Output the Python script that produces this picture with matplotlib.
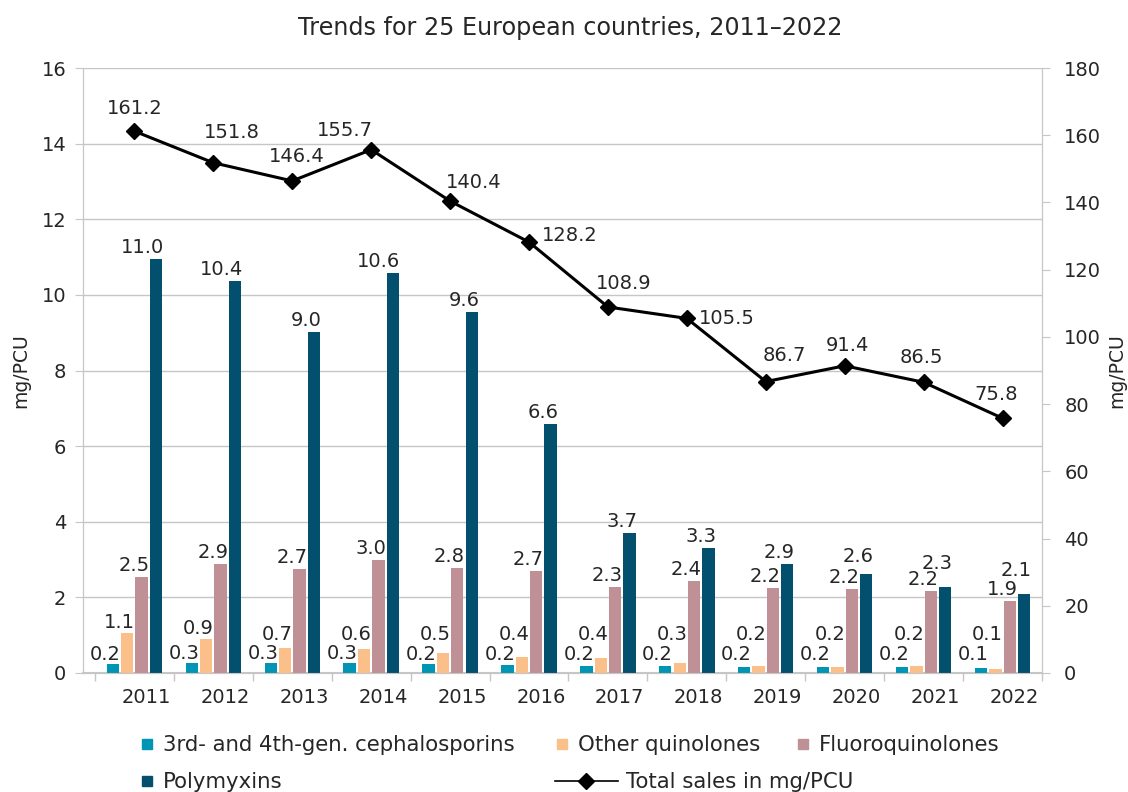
import numpy as np
import matplotlib
matplotlib.use('Agg')
import matplotlib.pyplot as plt
from matplotlib.lines import Line2D

years = ['2011', '2012', '2013', '2014', '2015', '2016',
         '2017', '2018', '2019', '2020', '2021', '2022']
cephalosporins = [0.24, 0.27, 0.27, 0.27, 0.23, 0.21, 0.19, 0.19, 0.17, 0.16, 0.16, 0.13]
other_quinolones = [1.07, 0.90, 0.67, 0.64, 0.52, 0.42, 0.40, 0.27, 0.19, 0.16, 0.18, 0.11]
fluoroquinolones = [2.54, 2.88, 2.74, 2.99, 2.78, 2.70, 2.27, 2.43, 2.24, 2.22, 2.17, 1.90]
polymyxins = [10.96, 10.36, 9.02, 10.58, 9.56, 6.58, 3.70, 3.31, 2.88, 2.63, 2.28, 2.10]
total_sales = [161.2, 151.8, 146.4, 155.7, 140.4, 128.2, 108.9, 105.5, 86.7, 91.4, 86.5, 75.8]

series_names = ['3rd- and 4th-gen. cephalosporins', 'Other quinolones',
                'Fluoroquinolones', 'Polymyxins']
colors = ['#0094B5', '#FBBF89', '#BF9096', '#034F6E']
grid_col = '#C6C6C6'
txt_col = '#262626'

# offsets (pixels) of the total-sales labels from their markers
line_lbl_off = [(0, 23), (18, 30), (4, 24), (-26, 19), (24, 19), (41, 7),
                (16, 23), (40, 0), (19, 26), (3, 20), (-2, 25), (-6, 24)]

plt.rcParams['font.family'] = 'DejaVu Sans'
my_dpi = 100
fig = plt.figure(figsize=(1128/my_dpi, 792/my_dpi), dpi=my_dpi)
ax = fig.add_axes([83/1128, 1-673/792, (1042-83)/1128, (673-68)/792])
ax2 = ax.twinx()

ax.set_xlim(-0.5 - 12/79, 11.5)
ax.set_ylim(0, 16)
ax2.set_ylim(0, 180)
px_per_unit = ax.bbox.height / 16.0

x = np.arange(len(years))
pitch = 0.182
width = 0.156
data = [cephalosporins, other_quinolones, fluoroquinolones, polymyxins]
for k, vals in enumerate(data):
    pos = x + (k - 1.5) * pitch
    ax.bar(pos, vals, width=width, color=colors[k], zorder=3)
    for i, v in enumerate(vals):
        top = v * px_per_unit
        if k == 0:
            off = max(top + 4, 13)          # small labels sit on a common row
        elif k == 1:
            off = max(top + 5, 33)          # stacked above the cyan ones
        elif k == 3 and years[i] == '2020':
            off = top + 12
        elif k == 3 and years[i] in ('2021', '2022'):
            off = top + 18
        else:
            off = top + 6
        ax.annotate(f'{v:.1f}', xy=(pos[i] + width/2 + 0.02, 0), xytext=(0, off),
                    textcoords='offset pixels', ha='right', va='baseline',
                    fontsize=14, color=txt_col, zorder=5)

ax2.plot(x, total_sales, color='black', linewidth=2.2, marker='D',
         markersize=8.5, zorder=4)
for i, v in enumerate(total_sales):
    ax2.annotate(f'{v:.1f}', xy=(x[i], v), xytext=line_lbl_off[i],
                 textcoords='offset pixels', ha='center', va='center',
                 fontsize=14, color=txt_col)

ax.set_yticks(np.arange(0, 17, 2))
ax2.set_yticks(np.arange(0, 181, 20))

ax.set_xticks(x + 0.15)
ax.set_xticklabels(years)
ax.set_xticks(np.arange(-0.5, 12, 1), minor=True)
ax.tick_params(axis='x', which='major', length=0, pad=11, labelsize=14, labelcolor=txt_col)
ax.tick_params(axis='x', which='minor', length=6, color=grid_col, width=1)
ax.tick_params(axis='y', length=6, color=grid_col, labelsize=14, labelcolor=txt_col, pad=6)
ax2.tick_params(axis='y', length=6, color=grid_col, labelsize=14, labelcolor=txt_col, pad=10)

ax.yaxis.grid(True, color=grid_col, linewidth=1, zorder=0)
ax.set_axisbelow(True)
for a in (ax, ax2):
    a.spines['top'].set_visible(False)
    for s in ('left', 'right', 'bottom'):
        a.spines[s].set_color(grid_col)
ax.spines['bottom'].set_linewidth(1.5)

ax.set_ylabel('mg/PCU', fontsize=13.5, color=txt_col, labelpad=8)
ax2.set_ylabel('mg/PCU', fontsize=13.5, color=txt_col, rotation=90, labelpad=4)
ax.set_title('Trends for 25 European countries, 2011\u20132022', fontsize=17.2,
             color=txt_col, pad=24, x=0.508)

# legend laid out item by item
def add_entry(handle, label, left_px, y_px, hlen, hpad):
    fig.legend([handle], [label], loc='center left',
               bbox_to_anchor=(left_px/1128, 1 - y_px/792), frameon=False,
               borderpad=0, borderaxespad=0, handlelength=hlen,
               handletextpad=hpad, fontsize=15.3, labelcolor=txt_col)

for k, (lx, ly) in enumerate([(142, 745), (557, 745), (798, 745), (142, 782)]):
    h = Line2D([], [], linestyle='none', marker='s', markersize=7,
               color=colors[k])
    add_entry(h, series_names[k], lx, ly, 0.5, 0.5)
h_line = Line2D([], [], color='black', linewidth=1.2, marker='D', markersize=8)
add_entry(h_line, 'Total sales in mg/PCU', 555, 782, 2.96, 0.38)

plt.savefig('out.png', dpi=my_dpi)
